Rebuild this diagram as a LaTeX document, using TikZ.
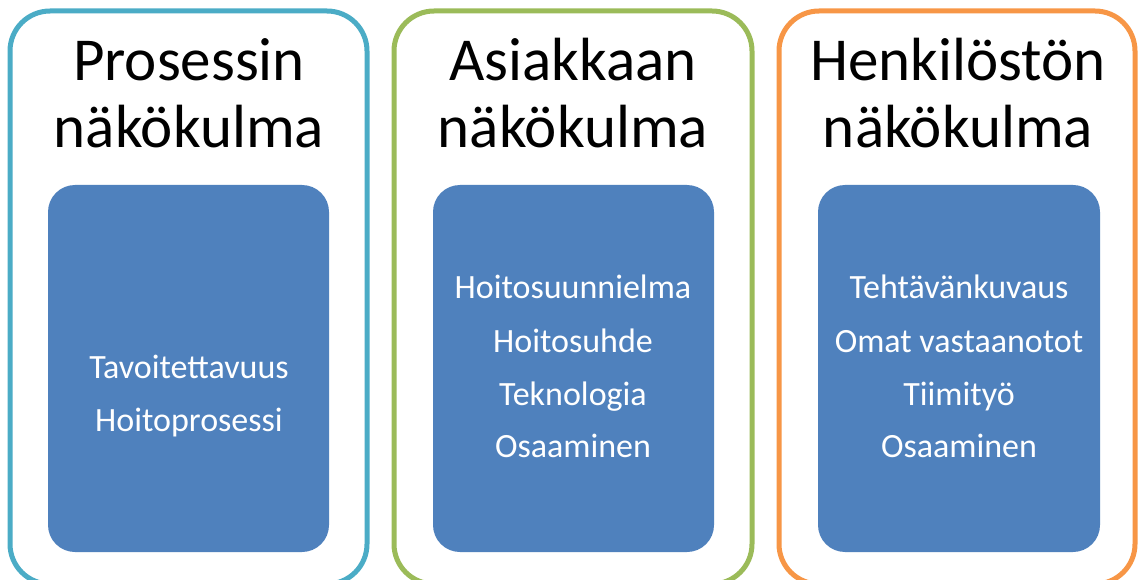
\documentclass[tikz,border=0pt]{standalone}
\usepackage{fontspec}
\setmainfont{Carlito}
\definecolor{tealline}{HTML}{4BACC6}
\definecolor{greenline}{HTML}{9BBB59}
\definecolor{orangeline}{HTML}{F79646}
\definecolor{cardblue}{HTML}{4F81BD}
\tikzset{
  panel/.style={draw=#1, line width=5bp, fill=white, rounded corners=40bp},
  card/.style={fill=cardblue, rounded corners=27bp},
  title/.style={anchor=base, inner sep=0pt, font=\fontsize{61bp}{66bp}\selectfont, text=black},
  item/.style={anchor=base, inner sep=0pt, font=\fontsize{34bp}{40bp}\selectfont, text=white}
}
\begin{document}
\begin{tikzpicture}[x=1bp,y=-1bp]
\useasboundingbox (0,0) rectangle (1139,580);
\begin{scope}
\clip (0,0) rectangle (1139,580);
% three outlined panels, running past the lower edge
\draw[panel=tealline]   (10,11) rectangle (367,584);
\draw[panel=greenline]  (394,11) rectangle (752,584);
\draw[panel=orangeline] (779,11) rectangle (1135,584);
\end{scope}
% blue cards
\fill[card] (48,185) rectangle (329,552);
\fill[card] (433,185) rectangle (714,552);
\fill[card] (818,185) rectangle (1100,552);

% panel headings
\node[title] (t1a) at (189,81) {Prosessin};
\node[title] (t1b) at (189,148) {näkökulma};
\node[title] (t2a) at (573,81) {Asiakkaan};
\node[title] (t2b) at (573,148) {näkökulma};
\node[title] (t3a) at (958,81) {Henkilöstön};
\node[title] (t3b) at (958,148) {näkökulma};

% card entries
\node[item] (p1) at (189,378) {Tavoitettavuus};
\node[item] (p2) at (189,431) {Hoitoprosessi};

\node[item] (a1) at (573,299) {Hoitosuunnielma};
\node[item] (a2) at (573,352) {Hoitosuhde};
\node[item] (a3) at (573,405) {Teknologia};
\node[item] (a4) at (573,457) {Osaaminen};

\node[item] (h1) at (959,299) {Tehtävänkuvaus};
\node[item] (h2) at (959,352) {Omat vastaanotot};
\node[item] (h3) at (959,405) {Tiimityö};
\node[item] (h4) at (959,457) {Osaaminen};
\end{tikzpicture}
\end{document}
